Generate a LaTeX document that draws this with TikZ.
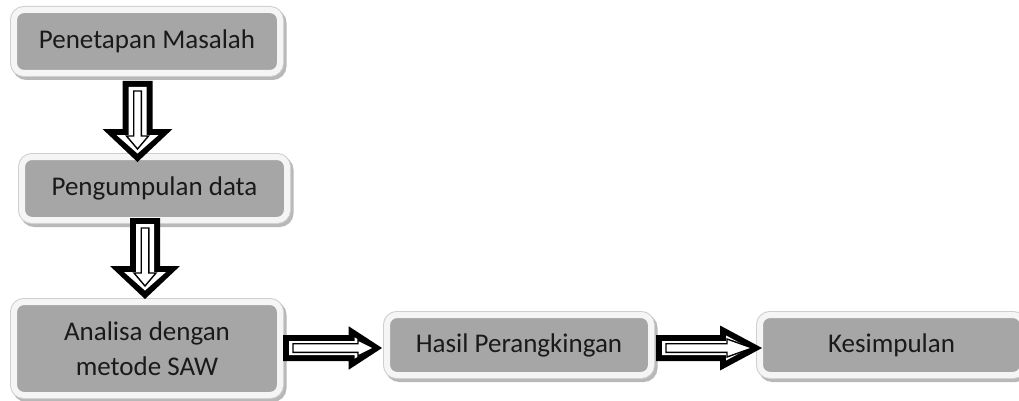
\documentclass[tikz,border=0pt]{standalone}
\usepackage{fontspec}
\setmainfont{Carlito}
\usetikzlibrary{calc}

\definecolor{boxgray}{HTML}{A6A6A6}
\definecolor{rimwhite}{HTML}{F5F5F5}
\definecolor{rimedge}{HTML}{CFCFCF}
\definecolor{shadowgray}{HTML}{B8B8B8}
\definecolor{inkdark}{HTML}{1A1A1A}

% Block arrow outline pointing down: start, tip, start inset, tip inset,
% shaft half width, head half width, head base distance from tip
\newcommand\downpoly[7]{%
  ($(#1)+(-#5,#3)$) -- ($(#2)+(-#5,-#7)$) -- ($(#2)+(-#6,-#7)$) -- ($(#2)+(0,-#4)$)
  -- ($(#2)+(#6,-#7)$) -- ($(#2)+(#5,-#7)$) -- ($(#1)+(#5,#3)$) -- cycle}
% Same outline pointing right
\newcommand\rightpoly[7]{%
  ($(#1)+(#3,-#5)$) -- ($(#2)+(-#7,-#5)$) -- ($(#2)+(-#7,-#6)$) -- ($(#2)+(-#4,0)$)
  -- ($(#2)+(-#7,#6)$) -- ($(#2)+(-#7,#5)$) -- ($(#1)+(#3,#5)$) -- cycle}

% Hollow block arrow: black rim, white band, thin inner outline
\newcommand\downblock[2]{%
  \fill[arrowout] \downpoly{#1}{#2}{0}{0}{15}{35}{33};
  \fill[arrowmid] \downpoly{#1}{#2}{6}{8.5}{9}{21}{27};
  \draw[arrowin]  \downpoly{#1}{#2}{10}{13}{3.8}{11}{26};
}
% #3 head half width, #4 head length, #5 band head half width,
% #6 band head base, #7 band tip inset, #8 inner head half width,
% #9 inner head base; the inner tip sits 13 back from the outer tip
\newcommand\rightblock[9]{%
  \fill[arrowout] \rightpoly{#1}{#2}{0}{0}{13}{#3}{#4};
  \fill[arrowmid] \rightpoly{#1}{#2}{6}{#7}{7}{#5}{#6};
  \draw[arrowin]  \rightpoly{#1}{#2}{10}{#7+3}{4.3}{#8}{#9};
}

\tikzset{
  stepbox/.style={rounded corners=10pt, fill=boxgray, draw=rimwhite, line width=6pt,
    preaction={draw=shadowgray, fill=shadowgray, line width=8pt,
      transform canvas={xshift=2.5pt, yshift=-3pt}},
    preaction={draw=rimedge, line width=8pt},
    text=inkdark, font=\fontsize{27}{35}\selectfont, align=center, inner sep=0pt},
  arrowout/.style={fill=black},
  arrowmid/.style={fill=white},
  arrowin/.style={draw=black, fill=white, line width=1.4pt, line join=miter},
}

\begin{document}
\begin{tikzpicture}[x=1pt, y=-1pt]
\clip (0,0) rectangle (1019,401);
\fill[white] (0,0) rectangle (1019,401);

% Process steps
\node[stepbox, minimum width=266pt, minimum height=63pt] (b1) at (147,41.5) {Penetapan Masalah};
\node[stepbox, minimum width=265pt, minimum height=63pt] (b2) at (154.5,188.5) {Pengumpulan data};
\node[stepbox, minimum width=266pt, minimum height=93pt] (b3) at (147,348.5) {Analisa dengan\\metode SAW};
\node[stepbox, minimum width=264pt, minimum height=60pt] (b4) at (519,345) {Hasil Perangkingan};
\node[stepbox, minimum width=263pt, minimum height=60pt] (b5) at (891.5,345) {Kesimpulan};

% Arrow end points
\coordinate (a1s) at ($(b1.south)+(-9.5,5)$);
\coordinate (a1e) at ($(a1s |- b2.north)+(0,8)$);
\coordinate (a2s) at ($(b2.south)+(-9.5,-5)$);
\coordinate (a2e) at ($(a2s |- b3.north)+(0,0)$);
\coordinate (a3s) at ($(b3.east)+(0,-0.5)$);
\coordinate (a3e) at ($(a3s -| b4.west)+(-2,0)$);
\coordinate (a4s) at ($(b4.east)+(2,3)$);
\coordinate (a4e) at ($(a4s -| b5.west)+(5,0)$);

% Connectors
\downblock{a1s}{a1e}
\downblock{a2s}{a2e}
\rightblock{a3s}{a3e}{21.7}{33.3}{10.6}{27.3}{11}{8}{24}
\rightblock{a4s}{a4e}{22.5}{42}{12.5}{36}{12.7}{9}{35}
\end{tikzpicture}
\end{document}
